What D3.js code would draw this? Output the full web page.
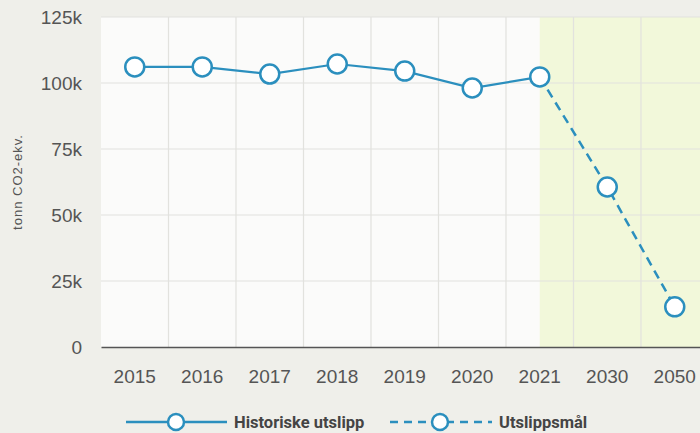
<!DOCTYPE html>
<html><head><meta charset="utf-8">
<script src="https://cdn.jsdelivr.net/npm/d3@7"></script>
<style>html,body{margin:0;padding:0;background:#efefea;}svg{display:block;}</style>
</head><body>
<svg id="c" width="700" height="433"></svg>
<script>
const categories = ["2015","2016","2017","2018","2019","2020","2021","2030","2050"];
const historic = [106100, 106100, 103400, 107200, 104500, 98100, 102300];
const historicYears = ["2015","2016","2017","2018","2019","2020","2021"];
const target = [102300, 60600, 15200];
const targetYears = ["2021","2030","2050"];
const yTicks = [0, 25000, 50000, 75000, 100000, 125000];
const yLabels = ["0","25k","50k","75k","100k","125k"];
const seriesNames = ["Historiske utslipp", "Utslippsmål"];
const yTitle = "tonn CO2-ekv.";

const svg = d3.select("#c");
const L = 101, R = 708.5, T = 17, B = 347;
const x = d3.scaleBand().domain(categories).range([L, R]).padding(0);
const y = d3.scaleLinear().domain([0, 125000]).range([B, T]);
const cx = d => x(d) + x.bandwidth()/2;
const color = "#2b8fbe";
const tickFont = "Liberation Sans, Arial, sans-serif";

svg.append("rect").attr("x", L).attr("y", T).attr("width", R-L).attr("height", B-T).attr("fill", "#fbfbfa");
svg.append("rect").attr("x", cx("2021")).attr("y", T).attr("width", R-cx("2021")).attr("height", B-T).attr("fill", "#f2f8da");

const g = svg.append("g");
yTicks.forEach(t => {
  if (t === 0) return;
  g.append("line").attr("x1", L).attr("x2", R).attr("y1", y(t)).attr("y2", y(t)).attr("stroke", "#e2e2de").attr("stroke-width", 1.2);
});
categories.forEach(c => {
  const xx = x(c);
  if (xx <= L) return;
  g.append("line").attr("x1", xx).attr("x2", xx).attr("y1", T).attr("y2", B).attr("stroke", "#e2e2de").attr("stroke-width", 1.2);
});

const yAxis = d3.axisLeft(y).tickValues(yTicks).tickFormat((d,i)=>yLabels[i]).tickSize(0).tickPadding(19);
const ya = svg.append("g").attr("transform", `translate(${L},0)`).call(yAxis);
ya.select(".domain").remove();
ya.selectAll("text").attr("font-family", tickFont).attr("font-size", 19).attr("fill", "#555");

const xAxis = d3.axisBottom(x).tickSize(0).tickPadding(23);
const xa = svg.append("g").attr("transform", `translate(0,${B})`).call(xAxis);
xa.select(".domain").attr("stroke", "#555").attr("stroke-width", 1.5);
xa.selectAll("text").attr("font-family", tickFont).attr("font-size", 19).attr("fill", "#555");

svg.append("text").attr("transform", `translate(22,${182}) rotate(-90)`).attr("text-anchor", "middle")
  .attr("font-family", tickFont).attr("font-size", 13).attr("letter-spacing", 1).attr("fill", "#555").text(yTitle);

const line = d3.line().x(d => cx(d[0])).y(d => y(d[1]));
const hist = historicYears.map((c,i)=>[c, historic[i]]);
const targ = targetYears.map((c,i)=>[c, target[i]]);

svg.append("path").datum(targ).attr("d", line).attr("fill", "none").attr("stroke", color).attr("stroke-width", 2.5).attr("stroke-dasharray", "9,6");
svg.append("path").datum(hist).attr("d", line).attr("fill", "none").attr("stroke", color).attr("stroke-width", 2.2);

svg.selectAll(".ph").data(hist).enter().append("circle").attr("cx", d=>cx(d[0])).attr("cy", d=>y(d[1])).attr("r", 9.5)
  .attr("fill", "#fff").attr("stroke", color).attr("stroke-width", 2.5);
svg.selectAll(".pt").data(targ.slice(1)).enter().append("circle").attr("cx", d=>cx(d[0])).attr("cy", d=>y(d[1])).attr("r", 9.5)
  .attr("fill", "#fff").attr("stroke", color).attr("stroke-width", 2.5);

const ly = 422;
const leg = svg.append("g");
leg.append("line").attr("x1", 126).attr("x2", 227).attr("y1", ly).attr("y2", ly).attr("stroke", color).attr("stroke-width", 2.5);
leg.append("circle").attr("cx", 176).attr("cy", ly).attr("r", 8).attr("fill", "#fff").attr("stroke", color).attr("stroke-width", 2.5);
leg.append("text").attr("x", 234).attr("y", ly+6).attr("font-family", "Roboto, Arial, sans-serif").attr("font-weight", "bold").attr("font-size", 16.5).attr("fill", "#444").text(seriesNames[0]);
leg.append("line").attr("x1", 390).attr("x2", 492).attr("y1", ly).attr("y2", ly).attr("stroke", color).attr("stroke-width", 2.5).attr("stroke-dasharray", "8,6");
leg.append("circle").attr("cx", 440).attr("cy", ly).attr("r", 8).attr("fill", "#fff").attr("stroke", color).attr("stroke-width", 2.5);
leg.append("text").attr("x", 499).attr("y", ly+6).attr("font-family", "Roboto, Arial, sans-serif").attr("font-weight", "bold").attr("font-size", 16.5).attr("fill", "#444").text(seriesNames[1]);
</script>
</body></html>
